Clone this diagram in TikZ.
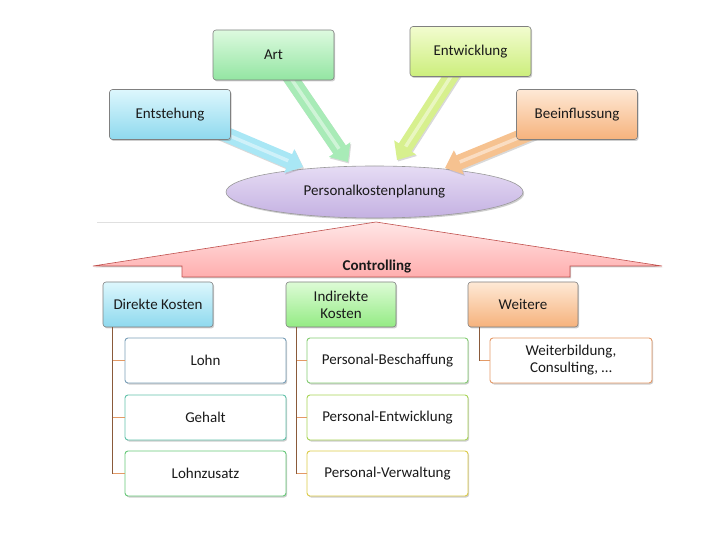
\documentclass[tikz,border=0pt]{standalone}
\usepackage{fontspec}
\setmainfont{Carlito}
\usetikzlibrary{shapes.geometric,shadows,calc}
\definecolor{txt}{HTML}{1A1A1A}
\definecolor{cyanT}{HTML}{DDF7FD}\definecolor{cyanB}{HTML}{8ED9EE}
\definecolor{grnT}{HTML}{DDFADF}\definecolor{grnB}{HTML}{93E5A2}
\definecolor{ylgT}{HTML}{F2FCCF}\definecolor{ylgB}{HTML}{CCEE7C}
\definecolor{orgT}{HTML}{FEE9D6}\definecolor{orgB}{HTML}{F6B27C}
\definecolor{lgrT}{HTML}{DDFBD6}\definecolor{lgrB}{HTML}{94EB84}
\definecolor{lavT}{HTML}{E6DCF4}\definecolor{lavB}{HTML}{C4B1E2}
\definecolor{pinkT}{HTML}{FFE6E6}\definecolor{pinkB}{HTML}{FFAEAE}
\definecolor{pinkE}{HTML}{C0504D}
\definecolor{trunkC}{HTML}{8A5A3A}\definecolor{stubC}{HTML}{E39A66}
\definecolor{arCyan}{HTML}{A9E7F5}\definecolor{arGrn}{HTML}{A8EBB7}
\definecolor{arYlg}{HTML}{D7F08E}\definecolor{arOrg}{HTML}{F6C290}
\definecolor{bLohn}{HTML}{7A9FB8}\definecolor{bGeh}{HTML}{62C2AA}
\definecolor{bLz}{HTML}{66C878}\definecolor{bPB}{HTML}{84CC72}
\definecolor{bPE}{HTML}{A8D455}\definecolor{bPV}{HTML}{DCCB48}
\definecolor{bWB}{HTML}{E59A68}
\newcommand\blockarrow[3]{%
  \coordinate (#1-h) at ($(#2)!15pt!(#1)$);
  \fill[#3, drop shadow={shadow xshift=1pt, shadow yshift=-1.5pt, opacity=0.3, fill=black!50}]
    ($(#1)!7.5pt!90:(#2)$) -- ($(#1-h)!7.5pt!90:(#2)$) -- ($(#1-h)!13pt!90:(#2)$) -- (#2)
    -- ($(#1-h)!13pt!-90:(#2)$) -- ($(#1-h)!7.5pt!-90:(#2)$) -- ($(#1)!7.5pt!-90:(#2)$) -- cycle;
  \draw[white, opacity=0.45, line width=3.5pt] (#1) -- ($(#1-h)!1pt!(#1)$);
}
\begin{document}
\begin{tikzpicture}[x=1pt,y=-1pt,
  every node/.style={font=\fontsize{15}{17}\selectfont, text=txt, align=center},
  shad/.style={drop shadow={shadow xshift=1.2pt, shadow yshift=-1.5pt, opacity=0.35, fill=black!55}},
  topbox/.style={shad, draw=black!50, line width=0.6pt, rounded corners=3pt,
     minimum width=121pt, minimum height=50pt, inner sep=2pt},
  midbox/.style={shad, draw=black!50, line width=0.6pt, rounded corners=3pt,
     minimum width=110pt, minimum height=45pt, inner sep=2pt},
  leaf/.style={shad, draw=#1, line width=0.9pt, rounded corners=3pt, fill=white,
     minimum width=161pt, minimum height=45pt, inner sep=2pt},
  trunk/.style={draw=trunkC, line width=1.5pt},
  stub/.style={draw=stubC, line width=1.5pt}]
\useasboundingbox (0,0) rectangle (723,537);

% separator line
\draw[black!12, line width=0.8pt] (97,222) -- (376,222);

% central ellipse
\node[ellipse, shad, draw=black!40, line width=0.6pt, top color=lavT, bottom color=lavB,
      minimum width=297pt, minimum height=52pt, inner sep=0pt] (pk) at (374.5,192) {Personalkostenplanung};

% block arrows (tails hidden under the boxes)
\coordinate (a-ent) at (190,119); \coordinate (t-ent) at (303,167);
\coordinate (a-art) at (275,55);  \coordinate (t-art) at (348,162);
\coordinate (a-ewk) at (466,53);  \coordinate (t-ewk) at (397,160);
\coordinate (a-bee) at (557,122); \coordinate (t-bee) at (445,168);
\blockarrow{a-ent}{t-ent}{arCyan}
\blockarrow{a-art}{t-art}{arGrn}
\blockarrow{a-ewk}{t-ewk}{arYlg}
\blockarrow{a-bee}{t-bee}{arOrg}

% top boxes
\node[topbox, top color=cyanT, bottom color=cyanB] (ent) at (170,114.5) {Entstehung};
\node[topbox, top color=grnT, bottom color=grnB] (art) at (273.5,55) {Art};
\node[topbox, top color=ylgT, bottom color=ylgB] (ewk) at (470.5,51.5) {Entwicklung};
\node[topbox, top color=orgT, bottom color=orgB] (bee) at (577,114.5) {Beeinflussung};

% Controlling shape
\path[shad, top color=pinkT, bottom color=pinkB, draw=pinkE, line width=0.6pt]
  (376,222) -- (662,266) -- (570,266) -- (570,277) -- (182,277) -- (182,266) -- (93,266) -- cycle;
\node[font=\fontsize{15}{17}\selectfont\bfseries, inner sep=0pt] (ctl) at (377,267) {Controlling};

% category boxes
\node[midbox, top color=cyanT, bottom color=cyanB] (dk) at (158,304.5) {Direkte Kosten};
\node[midbox, top color=lgrT, bottom color=lgrB] (ik) at (341,304.5) {Indirekte\\Kosten};
\node[midbox, top color=orgT, bottom color=orgB] (wt) at (523,304.5) {Weitere};

% connectors
\coordinate (dk-t) at ([xshift=10pt]dk.south west);
\coordinate (ik-t) at ([xshift=11pt]ik.south west);
\coordinate (wt-t) at ([xshift=12pt]wt.south west);

% leaves
\node[leaf=bLohn] (lohn) at (205.5,360.5) {Lohn};
\node[leaf=bGeh]  (geh)  at (205.5,417.5) {Gehalt};
\node[leaf=bLz]   (lz)   at (205.5,473.5) {Lohnzusatz};
\node[leaf=bPB]   (pb)   at (387.5,360.5) {Personal-Beschaffung};
\node[leaf=bPE]   (pe)   at (387.5,417.5) {Personal-Entwicklung};
\node[leaf=bPV]   (pv)   at (387.5,473.5) {Personal-Verwaltung};
\node[leaf=bWB, minimum width=162pt] (wb) at (571,360.5) {Weiterbildung,\\Consulting, \dots};

\draw[stub] (dk-t |- lohn.west) -- (lohn.west);
\draw[stub] (dk-t |- geh.west) -- (geh.west);
\draw[stub] (dk-t |- lz.west) -- (lz.west);
\draw[stub] (ik-t |- pb.west) -- (pb.west);
\draw[stub] (ik-t |- pe.west) -- (pe.west);
\draw[stub] (ik-t |- pv.west) -- (pv.west);
\draw[stub] (wt-t |- wb.west) -- (wb.west);
\draw[trunk] (dk-t) -- (dk-t |- lz.west);
\draw[trunk] (ik-t) -- (ik-t |- pv.west);
\draw[trunk] (wt-t) -- (wt-t |- wb.west);
\end{tikzpicture}
\end{document}
